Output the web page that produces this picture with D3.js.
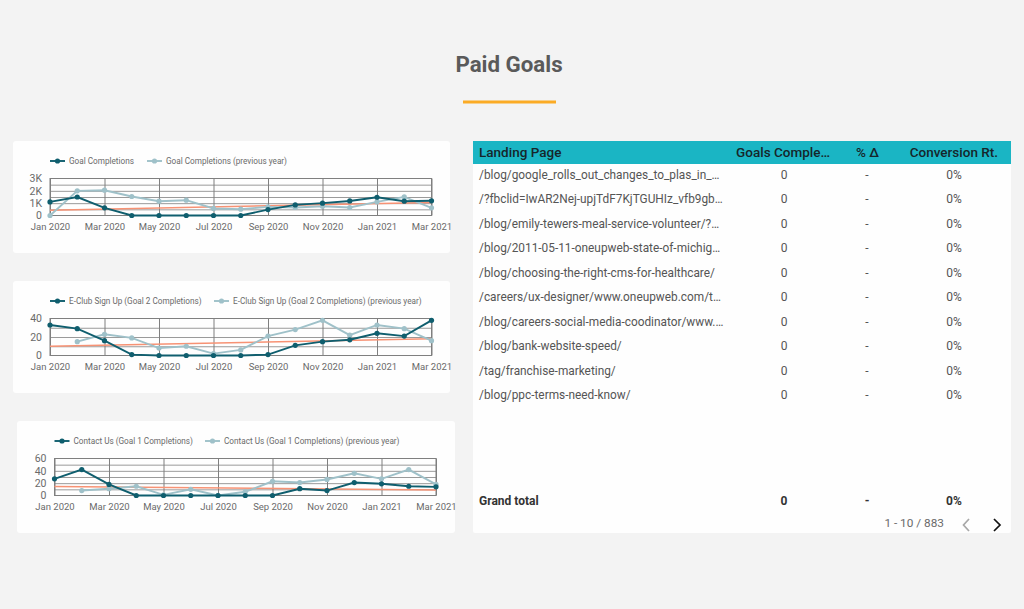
<!DOCTYPE html>
<html>
<head>
<meta charset="utf-8">
<script src="https://cdn.jsdelivr.net/npm/d3@7"></script>
<style>
html, body { margin: 0; padding: 0; background: #f3f3f3; overflow: hidden; }
text { font-family: Roboto, sans-serif; }
</style>
</head>
<body>
<svg id="page" width="1024" height="609"></svg>
<script>
const months = ["Jan 2020","Feb 2020","Mar 2020","Apr 2020","May 2020","Jun 2020","Jul 2020","Aug 2020","Sep 2020","Oct 2020","Nov 2020","Dec 2020","Jan 2021","Feb 2021","Mar 2021"];
const tickLabels = ["Jan 2020","Mar 2020","May 2020","Jul 2020","Sep 2020","Nov 2020","Jan 2021","Mar 2021"];

const goalsNow = [1100,1500,620,0,0,0,0,0,480,860,1000,1180,1480,1160,1190];
const goalsPrev = [0,2000,2050,1540,1160,1240,570,510,700,650,750,650,1100,1510,620];
const goalsTrend = [430,1050];

const clubNow = [33,29,16,1,0,0,0,0,1,11,15,17,24,21,38];
const clubPrev = [null,15,23,19,8,10,2,6,21,28,38,22,33,29,16];
const clubTrend = [10,18];

const contactNow = [27,42,18,0,0,0,0,0,0,11,8,21,19,15,14];
const contactPrev = [null,8,11,15,1,10,0,6,23,21,26,36,27,42,18];
const contactTrend = [14.5,9];

const tableHeader = ["Landing Page","Goals Comple…","% Δ","Conversion Rt."];
const pages = [
  "/blog/google_rolls_out_changes_to_plas_in_…",
  "/?fbclid=IwAR2Nej-upjTdF7KjTGUHIz_vfb9gb…",
  "/blog/emily-tewers-meal-service-volunteer/?…",
  "/blog/2011-05-11-oneupweb-state-of-michig…",
  "/blog/choosing-the-right-cms-for-healthcare/",
  "/careers/ux-designer/www.oneupweb.com/t…",
  "/blog/careers-social-media-coodinator/www.…",
  "/blog/bank-website-speed/",
  "/tag/franchise-marketing/",
  "/blog/ppc-terms-need-know/"
];
const goalsCol = [0,0,0,0,0,0,0,0,0,0];
const deltaCol = ["-","-","-","-","-","-","-","-","-","-"];
const rateCol = ["0%","0%","0%","0%","0%","0%","0%","0%","0%","0%"];
const totalRow = ["Grand total","0","-","0%"];

const dark = "#0f5e6e", light = "#9fc1c9", trendColor = "#f79274";
const svg = d3.select("#page");

// title block
svg.append("text").attr("x", 509).attr("y", 72).attr("text-anchor", "middle")
  .attr("font-size", 22.3).attr("font-weight", 700).attr("fill", "#5a5a5a").text("Paid Goals");
svg.append("rect").attr("x", 463).attr("y", 100.5).attr("width", 93).attr("height", 3).attr("fill", "#fbab25");

function drawChart(cfg) {
  const g = svg.append("g");
  g.append("rect").attr("x", cfg.card[0]).attr("y", cfg.card[1]).attr("width", cfg.card[2]).attr("height", cfg.card[3])
    .attr("rx", 3).attr("fill", "#fefefe");

  const x = d3.scalePoint().domain(months).range([cfg.l, cfg.r]);
  const y = d3.scaleLinear().domain([0, cfg.max]).range([cfg.b, cfg.t]);

  // minor horizontal grid, then the labelled axes
  g.append("g").attr("transform", `translate(${cfg.l},0)`)
    .call(d3.axisLeft(y).tickValues(cfg.grid).tickSize(-(cfg.r - cfg.l)).tickFormat(""))
    .call(s => s.select(".domain").remove())
    .selectAll("line").attr("stroke", "#9a9a9a").attr("stroke-width", 1);

  g.append("g").attr("transform", `translate(0,${cfg.b})`)
    .call(d3.axisBottom(x).tickValues(tickLabels).tickSize(-(cfg.b - cfg.t)).tickPadding(8))
    .call(s => s.select(".domain").remove())
    .call(s => s.selectAll("line").attr("stroke", "#7f7f7f"))
    .call(s => s.selectAll("text").attr("font-size", 9.5).attr("fill", "#6a6a6a").attr("font-family", "Roboto, sans-serif"));

  g.append("g").attr("transform", `translate(${cfg.l},0)`)
    .call(d3.axisLeft(y).tickValues(cfg.ticks).tickSize(0).tickPadding(8).tickFormat(cfg.fmt))
    .call(s => s.select(".domain").remove())
    .call(s => s.selectAll("text").attr("font-size", 10.5).attr("fill", "#6a6a6a").attr("font-family", "Roboto, sans-serif"));

  g.append("rect").attr("x", cfg.l).attr("y", cfg.t).attr("width", cfg.r - cfg.l).attr("height", cfg.b - cfg.t)
    .attr("fill", "none").attr("stroke", "#7f7f7f");

  // trend
  g.append("line").attr("x1", cfg.l).attr("x2", cfg.r)
    .attr("y1", y(cfg.trend[0])).attr("y2", y(cfg.trend[1]))
    .attr("stroke", trendColor).attr("stroke-width", 1.5);

  const line = d3.line().defined(d => d != null).x((d, i) => x(months[i])).y(d => y(d));
  [[cfg.prev, light], [cfg.now, dark]].forEach(([vals, color]) => {
    g.append("path").datum(vals).attr("d", line).attr("fill", "none").attr("stroke", color).attr("stroke-width", 1.9);
    g.selectAll(null).data(vals.map((v, i) => [months[i], v]).filter(d => d[1] != null)).enter().append("circle")
      .attr("cx", d => x(d[0])).attr("cy", d => y(d[1])).attr("r", 2.6).attr("fill", color);
  });

  // legend
  const ly = cfg.card[1] + 20;
  cfg.legend.forEach((item, i) => {
    const lx = cfg.legendX[i];
    g.append("line").attr("x1", lx).attr("x2", lx + 15).attr("y1", ly).attr("y2", ly)
      .attr("stroke", i ? light : dark).attr("stroke-width", 1.9);
    g.append("circle").attr("cx", lx + 7.5).attr("cy", ly).attr("r", 2.6).attr("fill", i ? light : dark);
    g.append("text").attr("x", lx + 19).attr("y", ly + 3).attr("font-size", 8.2).attr("fill", "#6a6a6a").text(item);
  });
}

drawChart({
  card: [13, 141, 437, 112], l: 50, r: 431.5, t: 178.5, b: 215.5, max: 3000,
  ticks: [0,1000,2000,3000], grid: [500,1000,1500,2000,2500],
  fmt: d => d ? d / 1000 + "K" : "0",
  now: goalsNow, prev: goalsPrev, trend: goalsTrend,
  legend: ["Goal Completions","Goal Completions (previous year)"], legendX: [50, 147]
});
drawChart({
  card: [13, 281, 437, 112], l: 50, r: 431.5, t: 318.5, b: 355.5, max: 40,
  ticks: [0,20,40], grid: [10,20,30],
  fmt: d3.format("d"),
  now: clubNow, prev: clubPrev, trend: clubTrend,
  legend: ["E-Club Sign Up (Goal 2 Completions)","E-Club Sign Up (Goal 2 Completions) (previous year)"], legendX: [50, 214]
});
drawChart({
  card: [17, 421, 438, 112], l: 54.5, r: 436, t: 458.5, b: 495.5, max: 60,
  ticks: [0,20,40,60], grid: [10,20,30,40,50],
  fmt: d3.format("d"),
  now: contactNow, prev: contactPrev, trend: contactTrend,
  legend: ["Contact Us (Goal 1 Completions)","Contact Us (Goal 1 Completions) (previous year)"], legendX: [54.5, 205]
});

// table
const tx = 473, tw = 538, rowY = d3.scaleBand().domain(d3.range(10)).range([162, 407]);
const colX = [479, 784, 867, 954];
const headX = [479, 830, 879, 998];
const t = svg.append("g");
t.append("rect").attr("x", tx).attr("y", 141).attr("width", tw).attr("height", 392).attr("rx", 2).attr("fill", "#fefefe");
t.append("rect").attr("x", tx).attr("y", 141).attr("width", tw).attr("height", 23).attr("fill", "#1ab5c4");
tableHeader.forEach((h, i) => {
  t.append("text").attr("x", headX[i]).attr("y", 157)
    .attr("text-anchor", i ? "end" : "start").attr("font-size", 13.5).attr("font-weight", 500).attr("fill", "#16262b").text(h);
});
t.selectAll(".page").data(pages).enter().append("text").attr("x", colX[0])
  .attr("y", (d, i) => rowY(i) + rowY.bandwidth() / 2 + 4.5).attr("font-size", 11.85).attr("fill", "#555").text(d => d);
[goalsCol, deltaCol, rateCol].forEach((col, c) => {
  t.selectAll(null).data(col).enter().append("text").attr("x", colX[c + 1]).attr("text-anchor", "middle")
    .attr("y", (d, i) => rowY(i) + rowY.bandwidth() / 2 + 4.5).attr("font-size", 12).attr("fill", "#555").text(d => d);
});
totalRow.forEach((v, i) => {
  t.append("text").attr("x", colX[i]).attr("y", 505).attr("text-anchor", i ? "middle" : "start")
    .attr("font-size", 12).attr("font-weight", 700).attr("fill", "#333").text(v);
});
t.append("text").attr("x", 944).attr("y", 527).attr("text-anchor", "end").attr("font-size", 11.8).attr("fill", "#6a6a6a").text("1 - 10 / 883");
t.append("path").attr("d", d3.line()([[969, 519], [963.5, 525], [969, 531]])).attr("fill", "none").attr("stroke", "#a8a8a8").attr("stroke-width", 1.7);
t.append("path").attr("d", d3.line()([[994, 519], [1000, 525], [994, 531]])).attr("fill", "none").attr("stroke", "#111").attr("stroke-width", 1.7);
</script>
</body>
</html>
